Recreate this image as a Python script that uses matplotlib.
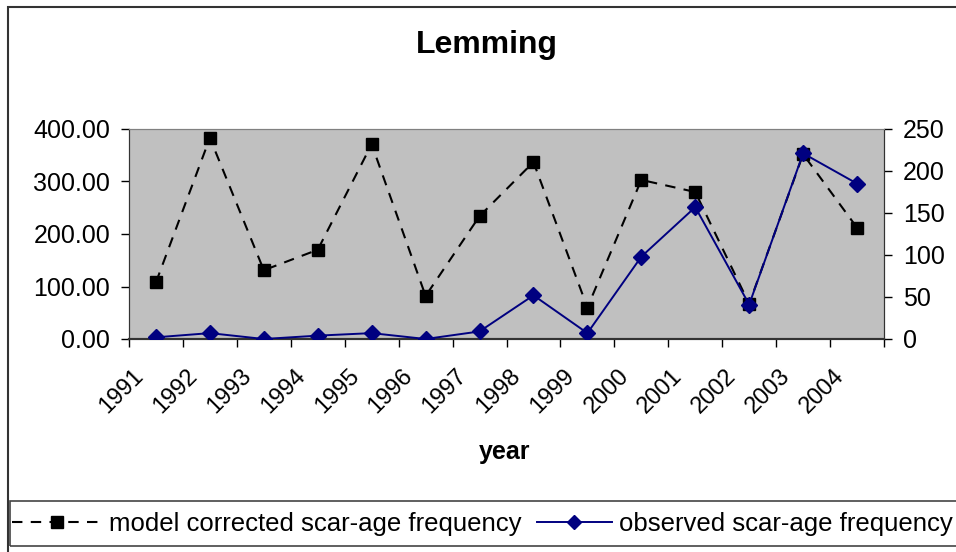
import matplotlib.pyplot as plt
import numpy as np
from matplotlib.patches import Rectangle
from matplotlib.transforms import ScaledTranslation

years = ['1991', '1992', '1993', '1994', '1995', '1996', '1997',
         '1998', '1999', '2000', '2001', '2002', '2003', '2004']
model_corrected = [108, 383, 131, 170, 371, 82, 234, 337, 60, 303, 280, 67, 352, 212]
observed = [2, 7, 0, 4, 7, 0, 9, 52, 7, 98, 157, 41, 221, 185]

plt.rcParams['font.family'] = ['Liberation Sans', 'DejaVu Sans']

fig = plt.figure(figsize=(9.56, 5.52), dpi=100)
W, H = 956, 552

# outer chart frame (cut off at right / bottom like the reference)
fig.patches.append(Rectangle((8 / W, -0.5), 2.0, 1 - 7 / H + 0.5,
                             transform=fig.transFigure, fill=False,
                             edgecolor='#333333', linewidth=1.5))

ax = fig.add_axes([129 / W, 1 - 339 / H, (884 - 129) / W, (339 - 129) / H])
ax.set_facecolor('#C0C0C0')
x = np.arange(len(years))

ax.plot(x, model_corrected, color='black', linestyle=(0, (5, 4)), linewidth=1.5,
        marker='s', markersize=8.5, zorder=3)
ax.set_xlim(-0.5, len(years) - 0.5)
ax.set_ylim(0, 400)
ax.set_yticks([0, 100, 200, 300, 400])
ax.set_yticklabels([f'{v:.2f}' for v in [0, 100, 200, 300, 400]])

ax2 = ax.twinx()
ax2.plot(x, observed, color='#000080', linewidth=1.4, marker='D', markersize=8, zorder=4)
ax2.set_ylim(0, 250)
ax2.set_yticks([0, 50, 100, 150, 200, 250])

# category boundary ticks, labels at centres
ax.set_xticks(np.arange(-0.5, len(years), 1.0), minor=True)
ax.set_xticks(x)
ax.set_xticklabels(years, rotation=45, ha='right', va='center', rotation_mode='anchor')
ax.tick_params(axis='x', which='major', length=0, pad=0, labelsize=17)
ax.tick_params(axis='x', which='minor', length=6, width=1, direction='out')
ax.tick_params(axis='y', length=5.5, width=1, labelsize=18, pad=8)
ax2.tick_params(axis='y', length=5.5, width=1, labelsize=18, pad=8)
for lab in ax.get_xticklabels():
    lab.set_transform(lab.get_transform() + ScaledTranslation(-0.16, -0.34, fig.dpi_scale_trans))

for a in (ax, ax2):
    a.spines['top'].set_color('#808080')
    a.spines['left'].set_color('#333333')
    a.spines['right'].set_color('#333333')
    a.spines['bottom'].set_color('#333333')
    a.spines['bottom'].set_linewidth(1.5)

fig.text(487 / W, 1 - 45 / H, 'Lemming', fontsize=23, fontweight='bold', ha='center', va='center')
fig.text(505 / W, 1 - 452 / H, 'year', fontsize=18, fontweight='bold', ha='center', va='center')

# legend box
fig.patches.append(Rectangle((10 / W, 1 - 546 / H), 2.0, (546 - 501) / H,
                             transform=fig.transFigure, fill=False,
                             edgecolor='#444444', linewidth=1.2))
h1, = ax.plot([], [], color='black', linestyle=(0, (5, 4)), linewidth=1.5, marker='s', markersize=8)
h2, = ax.plot([], [], color='#000080', linewidth=1.4, marker='D', markersize=7)
prop = {'size': 18.5}
leg1 = fig.legend([h1], ['model corrected scar-age frequency'], loc='center left',
                  bbox_to_anchor=(12 / W, 1 - 523.5 / H), frameon=False, prop=prop,
                  handlelength=3.5, handletextpad=0.27, borderpad=0, borderaxespad=0)
fig.legend([h2], ['observed scar-age frequency'], loc='center left',
           bbox_to_anchor=(537 / W, 1 - 523.5 / H), frameon=False, prop=prop,
           handlelength=2.9, handletextpad=0.3, borderpad=0, borderaxespad=0)

fig.savefig('out.png', dpi=100)
